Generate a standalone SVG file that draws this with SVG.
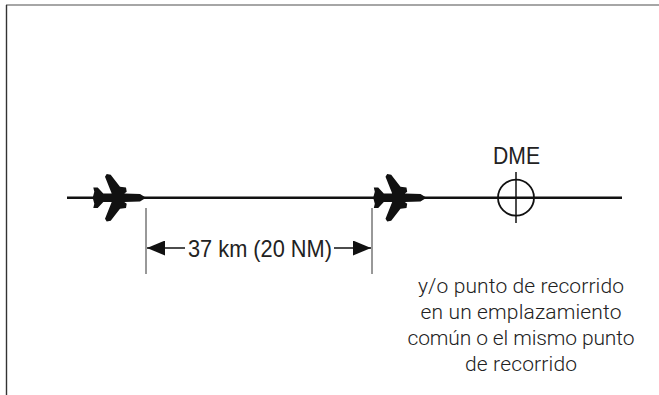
<svg xmlns="http://www.w3.org/2000/svg" width="659" height="395" viewBox="0 0 659 395">
<style>
text{font-family:"Liberation Sans",Arial,sans-serif;fill:#222;text-anchor:middle}
.label{font-size:24px}
.note{font-family:Roboto,"Liberation Sans",sans-serif;font-size:21px;font-weight:300}
.thin{stroke:#333;stroke-width:1;fill:none}
.shaft{stroke:#111;stroke-width:1.400;fill:none}
.track{stroke:#111;stroke-width:2.400;fill:none}
</style>
<defs>
<path id="plane" fill="#111" d="M-25.300 0L-23.700 -6L-24.700 -10.300L-20.300 -10.300L-14.700 -4.300L-6.300 -4.300L-13 -21L-11.300 -23.700L-7.300 -23L2 -11L8 -10.300L8.700 -6L6.300 -4.300L22 -3.700L28 0L22 3.700L6.300 4.300L8.700 6L8 10.300L2 11L-7.300 23L-11.300 23.700L-13 21L-6.300 4.300L-14.700 4.300L-20.300 10.300L-24.700 10.300L-23.700 6Z"/>
<marker id="arrow" viewBox="0 0 18 15" refX="18" refY="7.500" markerWidth="18" markerHeight="15" markerUnits="userSpaceOnUse" orient="auto-start-reverse"><path d="M0 0L18 7.500L0 15Z" fill="#111"/></marker>
</defs>
<rect width="659" height="395" fill="#fff"/>
<g id="frame"><path d="M6 5H659" stroke="#888" stroke-width="1.600" fill="none"/><path d="M6.500 5V395" stroke="#333" stroke-width="1.400" fill="none"/></g>
<g id="connectors">
<path class="track" d="M67 197.700H622"/>
<path class="thin" d="M146 208V274M372 208V274"/>
<path class="shaft" d="M147 248H185" marker-start="url(#arrow)"/>
<path class="shaft" d="M334 248H371" marker-end="url(#arrow)"/>
</g>
<g id="aircraft-1"><use href="#plane" transform="translate(118 197.700)"/></g>
<g id="aircraft-2"><use href="#plane" transform="translate(398.500 197.700)"/></g>
<g id="dme"><circle cx="516" cy="197.700" r="18" fill="none" stroke="#111" stroke-width="1.800"/><path d="M516 172V223" stroke="#111" stroke-width="1.500" fill="none"/><text class="label" x="516.500" y="164" textLength="47" lengthAdjust="spacingAndGlyphs">DME</text></g>
<g id="distance-label"><text class="label" x="260" y="257" textLength="144" lengthAdjust="spacingAndGlyphs">37 km (20 NM)</text></g>
<g id="note"><text class="note" x="521" y="293" textLength="206">y/o punto de recorrido</text><text class="note" x="521" y="319" textLength="201">en un emplazamiento</text><text class="note" x="521" y="345" textLength="227">común o el mismo punto</text><text class="note" x="521" y="371" textLength="112">de recorrido</text></g>
</svg>
